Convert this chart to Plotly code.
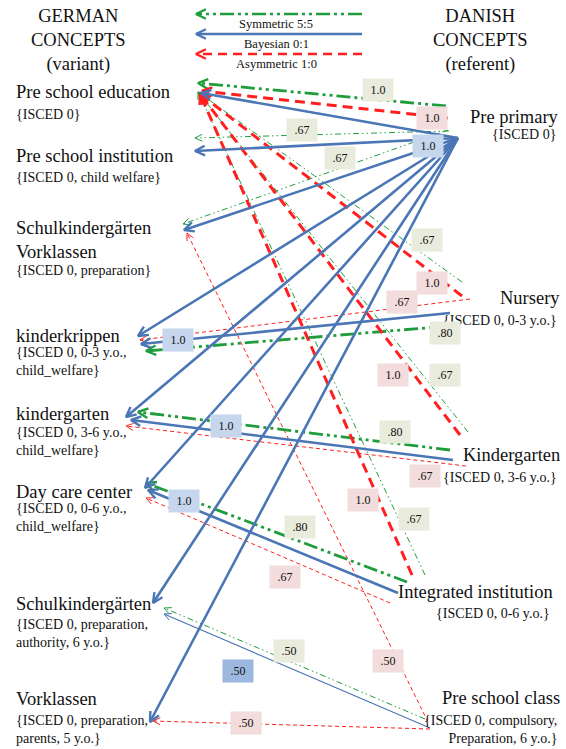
import math
import plotly.graph_objects as go

# ---------------- data ----------------
german_concepts = ["Pre school education", "Pre school institution", "Schulkindergärten<br>Vorklassen",
                   "kinderkrippen", "kindergarten", "Day care center", "Schulkindergärten", "Vorklassen"]
german_details = ["{ISCED 0}", "{ISCED 0, child welfare}", "{ISCED 0, preparation}",
                  "{ISCED 0, 0-3 y.o.,<br>child_welfare}", "{ISCED 0, 3-6 y.o.,<br>child_welfare}",
                  "{ISCED 0, 0-6 y.o.,<br>child_welfare}", "{ISCED 0, preparation,<br>authority, 6 y.o.}",
                  "{ISCED 0, preparation,<br>parents, 5 y.o.}"]
danish_concepts = ["Pre primary", "Nursery", "Kindergarten", "Integrated institution", "Pre school class"]
danish_details = ["{ISCED 0}", "{ISCED 0, 0-3 y.o.}", "{ISCED 0, 3-6 y.o.}", "{ISCED 0, 0-6 y.o.}",
                  "{ISCED 0, compulsory,<br>Preparation, 6 y.o.}"]
relation_types = ["Symmetric 5:5", "Bayesian 0:1", "Asymmetric 1:0"]

# edges: (danish source, german target, relation, weight label)
edge_src = ["Pre primary"] * 12 + ["Nursery"] * 5 + ["Kindergarten"] * 5 + ["Integrated institution"] * 5 + ["Pre school class"] * 4
edge_dst = ["Pre school education", "Pre school education", "Pre school education", "Pre school institution",
            "Pre school institution", "Schulkindergärten Vorklassen", "Schulkindergärten Vorklassen",
            "kinderkrippen", "kindergarten", "Day care center", "Schulkindergärten", "Vorklassen",
            "Pre school education", "Pre school education", "kinderkrippen", "kinderkrippen", "kinderkrippen",
            "Pre school education", "Pre school education", "kindergarten", "kindergarten", "kindergarten",
            "Pre school education", "Pre school education", "Day care center", "Day care center", "Day care center",
            "Schulkindergärten Vorklassen", "Schulkindergärten", "Schulkindergärten", "Vorklassen"]
edge_rel = ["S", "A", "B", "S", "B", "S", "B", "B", "B", "B", "B", "B",
            "A", "S", "A", "B", "S",
            "A", "S", "S", "B", "A",
            "A", "S", "S", "B", "A",
            "A", "S", "B", "A"]
edge_weight = ["1.0", "1.0", "", ".67", "1.0", ".67", "", "", "", "", "", "",
               "1.0", ".67", ".67", "1.0", ".80",
               "1.0", ".67", ".80", "1.0", ".67",
               "1.0", ".67", ".80", "1.0", ".67",
               ".50", ".50", ".50", ".50"]
edge_strong = [True, True, True, False, True, False, True, True, True, True, True, True,
               True, False, False, True, True,
               True, False, True, True, False,
               True, False, True, True, False,
               False, False, False, False]

# ---------------- layout (diagram geometry) ----------------
edge_tail = [(446, 106), (448, 118), (458, 138), (449, 131), (458, 138), (448, 130), (458, 138),
             (458, 138), (458, 138), (458, 138), (458, 138), (458, 138),
             (462, 296), (462, 282), (470, 299), (450, 313), (450, 326),
             (460, 435), (468, 432), (450, 450), (453, 460), (466, 466),
             (412, 575), (425, 575), (407, 582), (398, 593), (390, 603),
             (428, 722), (425, 719), (430, 728), (430, 729)]
edge_head = [(198, 83), (202, 91), (201, 93), (195, 138), (195, 151), (183, 224), (184, 230),
             (138, 336), (126, 417), (145, 488), (153, 603), (150, 722),
             (200, 94), (198, 92), (140, 340), (141, 344), (146, 351),
             (200, 94), (198, 92), (138, 412), (131, 420), (126, 426),
             (200, 94), (198, 92), (146, 483), (148, 490), (146, 498),
             (187, 233), (164, 608), (164, 614), (153, 721)]
label_pos = [(378, 90), (432, 118), None, (302, 130), (428, 146), (340, 158), None, None, None, None, None, None,
             (432, 283), (427, 240), (402, 302), (178, 340), (445, 333),
             (393, 375), (445, 375), (395, 432), (226, 426), (425, 476),
             (363, 500), (414, 519), (300, 527), (184, 501), (285, 577),
             (388, 661), (289, 651), (238, 671), (246, 723)]

COL = {"S": "#1f9d3c", "B": "#4a76b6", "A": "#ff1f1f"}
BG = {"S": "#e9ecdc", "B": "#c6d6ec", "A": "#f2dcdc"}
BG_WEAK_B = "#9db8de"


def dash_for(rel, strong):
    if rel == "B":
        return "solid"
    if rel == "A":
        return "10px,6px" if strong else "4px,3px"
    return "14px,4px,3px,4px,3px,4px" if strong else "6px,3px,1.5px,3px,1.5px,3px"


def width_for(rel, strong):
    if rel == "B":
        return 2.6 if strong else 1.1
    return 3.0 if (strong and rel == "A") else (2.8 if strong else 1.0)


fig = go.Figure()


def arrow_head(tail, head, size, color, width):
    ux, uy = tail[0] - head[0], tail[1] - head[1]
    n = math.hypot(ux, uy)
    ux, uy = ux / n, uy / n
    pts = []
    for ang in (0.45, -0.45):
        c, s = math.cos(ang), math.sin(ang)
        pts.append((head[0] + size * (ux * c - uy * s), head[1] + size * (ux * s + uy * c)))
    fig.add_trace(go.Scatter(x=[pts[0][0], head[0], pts[1][0]], y=[pts[0][1], head[1], pts[1][1]],
                             mode="lines", line=dict(color=color, width=width), hoverinfo="skip",
                             showlegend=False))


# draw edges: weak first then strong
order = sorted(range(len(edge_rel)), key=lambda i: (edge_strong[i], edge_rel[i] == "B"))
for i in order:
    rel, strong = edge_rel[i], edge_strong[i]
    t, h = edge_tail[i], edge_head[i]
    fig.add_trace(go.Scatter(x=[t[0], h[0]], y=[t[1], h[1]], mode="lines",
                             line=dict(color=COL[rel], width=width_for(rel, strong), dash=dash_for(rel, strong)),
                             hoverinfo="skip", showlegend=False))
    arrow_head(t, h, 11 if strong else 8, COL[rel], 2.4 if strong else 1.0)

# legend arrows
leg_y = [14, 34, 54]
leg_text_y = [24, 44, 64]
for k, rel in enumerate(["S", "B", "A"]):
    t, h = (362, leg_y[k]), (196, leg_y[k])
    fig.add_trace(go.Scatter(x=[t[0], h[0]], y=[t[1], h[1]], mode="lines",
                             line=dict(color=COL[rel], width=2.6 if rel != "A" else 2.4,
                                       dash=dash_for(rel, True) if rel != "A" else "9px,6px"),
                             hoverinfo="skip", showlegend=False))
    arrow_head(t, h, 11, COL[rel], 2.2)

annotations = []
FONT = "Liberation Serif, Times New Roman, serif"


def txt(x, y, s, size, anchor="left", valign="middle"):
    annotations.append(dict(x=x, y=y, xref="x", yref="y", text=s, showarrow=False, xanchor=anchor,
                            yanchor=valign, align=anchor if anchor != "center" else "center",
                            font=dict(family=FONT, size=size, color="#111")))


for k, rel in enumerate(relation_types):
    txt(276, leg_text_y[k], rel, 12.5, "center")

txt(78, 40, "GERMAN<br>CONCEPTS<br>(variant)", 18.5, "center")
txt(480, 40, "DANISH<br>CONCEPTS<br>(referent)", 18.5, "center")

g_name_y = [92, 156, 240, 336, 414, 492, 604, 699]
g_det_y = [114, 177, 270, 361, 441, 517, 633, 729]
for k in range(len(german_concepts)):
    txt(14, g_name_y[k], german_concepts[k], 18.5)
    txt(14, g_det_y[k], german_details[k], 14)

d_name_y = [117, 298, 455, 592, 698]
d_det_y = [134, 320, 477, 613, 729]
d_right = [561, 562, 562, 555, 562]
for k in range(len(danish_concepts)):
    txt(d_right[k], d_name_y[k], danish_concepts[k], 18.5, "right")
    txt(d_right[k] - 3, d_det_y[k], danish_details[k], 14, "right")

# weight labels
for i in range(len(edge_weight)):
    if not edge_weight[i] or label_pos[i] is None:
        continue
    rel = edge_rel[i]
    bg = BG[rel]
    if rel == "B" and not edge_strong[i]:
        bg = BG_WEAK_B
    lx, ly = label_pos[i]
    annotations.append(dict(x=lx, y=ly, xref="x", yref="y", text=edge_weight[i], showarrow=False,
                            bgcolor=bg, width=24, height=16, borderpad=3,
                            font=dict(family=FONT, size=12, color="#111")))

fig.update_layout(
    width=566, height=749, margin=dict(l=0, r=0, t=0, b=0),
    paper_bgcolor="white", plot_bgcolor="white",
    xaxis=dict(range=[0, 566], visible=False, fixedrange=True),
    yaxis=dict(range=[749, 0], visible=False, fixedrange=True),
    annotations=annotations, showlegend=False,
)
fig.write_html("out.html", config={"displayModeBar": False},
               post_script="document.body.style.margin='0';document.body.style.overflow='hidden';")
